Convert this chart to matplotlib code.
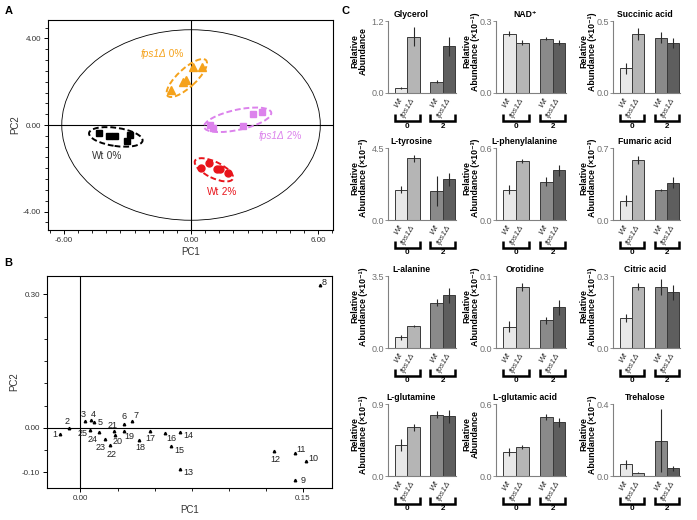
import matplotlib
matplotlib.use('Agg')
import matplotlib.pyplot as plt
import matplotlib.transforms as mtransforms
from matplotlib.patches import Ellipse
from matplotlib.ticker import MultipleLocator, FixedLocator, FormatStrFormatter

plt.rcParams['font.family'] = ['Liberation Sans', 'DejaVu Sans']
plt.rcParams['axes.unicode_minus'] = False

# ---- panel A: PCA scores ----
wt0_x = [-4.35, -3.85, -3.6, -3.0, -2.9]
wt0_y = [-0.35, -0.5, -0.5, -0.72, -0.45]
fps0_x = [-0.96, -0.39, -0.24, 0.08, 0.5]
fps0_y = [1.61, 2.0, 2.1, 2.69, 2.69]
fps2_x = [0.9, 1.05, 2.44, 2.94, 3.33]
fps2_y = [0.0, -0.15, -0.05, 0.49, 0.61]
wt2_x = [0.47, 0.85, 1.21, 1.37, 1.73]
wt2_y = [-2.0, -1.77, -2.03, -2.04, -2.23]

# ---- panel B: loadings ----
load_id = list(range(1, 26))
load_x = [-0.0139, -0.0079, 0.0034, 0.0074, 0.009, 0.0296, 0.0348, 0.1613, 0.1447, 0.1523,
          0.1447, 0.1307, 0.0674, 0.0674, 0.0611, 0.0568, 0.0472, 0.0393, 0.0296, 0.0234,
          0.0224, 0.0202, 0.0164, 0.0126, 0.0063]
load_y = [-0.0135, 0.0007, 0.0157, 0.017, 0.0135, 0.0098, 0.0148, 0.3198, -0.1177, -0.0747,
          -0.0574, -0.0522, -0.0913, -0.0099, -0.041, -0.0112, -0.0076, -0.0278, -0.006, -0.015,
          -0.0076, -0.039, -0.026, -0.0099, -0.004]

# ---- panel C: metabolite bars ----
metabolites = ['Glycerol', 'NAD⁺', 'Succinic acid', 'L-tyrosine', 'L-phenylalanine', 'Fumaric acid',
               'L-alanine', 'Orotidine', 'Citric acid', 'L-glutamine', 'L-glutamic acid', 'Trehalose']
units = ['', '(×10⁻¹)', '(×10⁻¹)', '(×10⁻³)', '(×10⁻³)', '(×10⁻³)',
         '(×10⁻¹)', '(×10⁻¹)', '(×10⁻¹)', '(×10⁻¹)', '', '(×10⁻¹)']
ymax = [1.2, 0.3, 0.5, 4.5, 0.6, 0.7, 3.5, 0.1, 0.3, 0.9, 0.6, 0.4]
means = [[0.08, 0.94, 0.19, 0.78],
         [0.247, 0.21, 0.227, 0.21],
         [0.173, 0.408, 0.385, 0.35],
         [1.9, 3.86, 1.8, 2.54],
         [0.253, 0.493, 0.32, 0.413],
         [0.187, 0.582, 0.296, 0.364],
         [0.52, 1.07, 2.2, 2.56],
         [0.0296, 0.0843, 0.0386, 0.0565],
         [0.125, 0.256, 0.253, 0.233],
         [0.39, 0.607, 0.766, 0.746],
         [0.2, 0.243, 0.488, 0.447],
         [0.064, 0.018, 0.195, 0.042]]
errs = [[0.02, 0.16, 0.02, 0.16],
        [0.01, 0.012, 0.007, 0.012],
        [0.038, 0.04, 0.04, 0.035],
        [0.2, 0.22, 0.95, 0.42],
        [0.04, 0.015, 0.035, 0.047],
        [0.053, 0.04, 0.01, 0.055],
        [0.11, 0.05, 0.16, 0.36],
        [0.0074, 0.0056, 0.005, 0.0105],
        [0.018, 0.016, 0.034, 0.031],
        [0.074, 0.04, 0.045, 0.085],
        [0.035, 0.015, 0.025, 0.037],
        [0.023, 0.004, 0.175, 0.012]]
strains = ['Wt', 'fps1Δ', 'Wt', 'fps1Δ']
salt = ['0', '2']

W, H = 697, 520
fig = plt.figure(figsize=(W / 100, H / 100), dpi=100)


def add_ax(left, top, width, height):
    return fig.add_axes([left / W, 1 - (top + height) / H, width / W, height / H])


def pca_style(ax):
    for s in ax.spines.values():
        s.set_linewidth(0.8)
    ax.tick_params(which='both', direction='out', top=False, right=False,
                   labelsize=5.8, labelcolor='#333333', pad=2)
    ax.tick_params(which='major', length=3, width=0.7)
    ax.tick_params(which='minor', length=2, width=0.6)
    ax.axhline(0, color='black', lw=0.8, zorder=1)
    ax.axvline(0, color='black', lw=0.8, zorder=1)


# panel A
axA = add_ax(48, 20, 285, 210)
axA.set_xlim(-6.75, 6.7)
axA.set_ylim(-4.85, 4.85)
pca_style(axA)
axA.xaxis.set_major_locator(FixedLocator([-6, 0, 6]))
axA.xaxis.set_minor_locator(MultipleLocator(6 / 9))
axA.yaxis.set_major_locator(FixedLocator([-4, 0, 4]))
axA.yaxis.set_minor_locator(MultipleLocator(0.5))
axA.xaxis.set_major_formatter(FormatStrFormatter('%.2f'))
axA.yaxis.set_major_formatter(FormatStrFormatter('%.2f'))
axA.set_xlabel('PC1', fontsize=7, color='#333333', labelpad=2)
axA.set_ylabel('PC2', fontsize=7, color='#333333', labelpad=2)

axA.add_patch(Ellipse((0, 0), 12.2, 8.8, fill=False, lw=0.6, ec='black'))
orange, violet, red = '#F5A21B', '#DC82EC', '#E8141B'
groups = [(wt0_x, wt0_y, 's', 'black', 5, (-3.55, -0.55), 2.55, 0.84, -8),
          (fps0_x, fps0_y, '^', orange, 6, (-0.2, 2.17), 2.45, 0.85, 42),
          (fps2_x, fps2_y, 's', violet, 5, (2.2, 0.24), 3.24, 0.93, 12),
          (wt2_x, wt2_y, 'o', red, 5, (1.08, -2.07), 1.97, 0.75, -25)]
for gx, gy, mk, col, ms, cen, ew, eh, ang in groups:
    axA.plot(gx, gy, mk, color=col, ms=ms, mec=col, zorder=3)
    axA.add_patch(Ellipse(cen, ew, eh, angle=ang, fill=False, ec=col, lw=1.4,
                          ls=(0, (3, 1.5)), zorder=3))


def group_label(ax, x, y, first, rest, color, ital):
    t = ax.text(x, y, first, style='italic' if ital else 'normal', color=color,
                fontsize=7.2, ha='left', va='bottom')
    ax.annotate(rest, xy=(1, 0), xycoords=t, color=color, fontsize=7.2, ha='left', va='bottom')


group_label(axA, -2.4, 3.05, 'fps1Δ', ' 0%', orange, True)
group_label(axA, 3.17, -0.72, 'fps1Δ', ' 2%', violet, True)
group_label(axA, -4.68, -1.65, 'Wt', ' 0%', '#333333', False)
group_label(axA, 0.74, -3.34, 'Wt', ' 2%', red, False)

# panel B
axB = add_ax(47, 276, 285, 212)
axB.set_xlim(-0.0225, 0.1695)
axB.set_ylim(-0.135, 0.341)
pca_style(axB)
axB.xaxis.set_major_locator(FixedLocator([0, 0.15]))
axB.xaxis.set_minor_locator(MultipleLocator(0.025))
axB.yaxis.set_major_locator(FixedLocator([-0.1, 0, 0.3]))
axB.yaxis.set_minor_locator(MultipleLocator(0.05))
axB.xaxis.set_major_formatter(FormatStrFormatter('%.2f'))
axB.yaxis.set_major_formatter(FormatStrFormatter('%.2f'))
axB.set_xlabel('PC1', fontsize=7, color='#333333', labelpad=2)
axB.set_ylabel('PC2', fontsize=7, color='#333333', labelpad=2)
axB.plot(load_x, load_y, '^', color='black', ms=1.8, zorder=3)
# label offsets in pixels (dx right, dy down)
offs = {1: (-5, 1), 2: (-2, -6), 3: (-2, -6), 4: (2, -6), 5: (6, 1), 6: (0, -7), 7: (4, -6),
        8: (4, -3), 9: (8, 0), 10: (7, -3), 11: (6, -4), 12: (1, 8), 13: (8, 4), 14: (8, 3),
        15: (8, 4), 16: (7, 6), 17: (0, 7), 18: (2, 7), 19: (5, 6), 20: (2, 7), 21: (-1, -6),
        22: (1, 9), 23: (-4, 8), 24: (-7, 7), 25: (-7, 4)}
for i, x, y in zip(load_id, load_x, load_y):
    dx, dy = offs[i]
    axB.annotate(str(i), (x, y), xytext=(dx * 0.72, -dy * 0.72), textcoords='offset points',
                 ha='center', va='center', fontsize=6.5, color='#222222')

fig.text(9 / W, 1 - 11 / H, 'A', fontsize=8, fontweight='bold', ha='center', va='center')
fig.text(8 / W, 1 - 263 / H, 'B', fontsize=8, fontweight='bold', ha='center', va='center')
fig.text(346 / W, 1 - 11 / H, 'C', fontsize=8, fontweight='bold', ha='center', va='center')

# panel C
col_left = [388, 496, 613]
col_w = [68, 70, 67]
title_x = [0.34, 0.41, 0.48]
label_x = [-0.29, -0.23, -0.24]
row_top = [21, 148, 276, 404]
ax_h = 72
pos = [0, 1, 2.85, 3.85]
bar_colors = ['#E8E8E8', '#B5B5B5', '#8A8A8A', '#5E5E5E']

for i, name in enumerate(metabolites):
    r, c = divmod(i, 3)
    ax = add_ax(col_left[c], row_top[r], col_w[c], ax_h)
    ax.bar(pos, means[i], width=1, color=bar_colors, edgecolor='#3A3A3A', linewidth=0.7,
           yerr=errs[i], error_kw=dict(ecolor='#2A2A2A', elinewidth=0.8, capsize=0))
    ax.set_xlim(-1.05, 4.4)
    ax.set_ylim(0, ymax[i])
    for s in ['top', 'right']:
        ax.spines[s].set_visible(False)
    for s in ['left', 'bottom']:
        ax.spines[s].set_color('#808080')
        ax.spines[s].set_linewidth(0.8)
    ax.set_yticks([0, ymax[i]])
    ax.yaxis.set_major_formatter(FormatStrFormatter('%.1f'))
    ax.tick_params(axis='y', length=2, width=0.6, color='#808080', labelsize=6.5,
                   labelcolor='#707070', pad=1)
    ax.set_xticks(pos)
    ax.set_xticklabels(strains, rotation=60, ha='right', va='center', rotation_mode='anchor',
                       style='italic', fontsize=6, color='#333333')
    ax.tick_params(axis='x', length=0, pad=4)
    ax.set_title(name, fontsize=6.2, fontweight='bold', x=title_x[c], pad=3)
    lab = 'Relative\nAbundance' + (' ' + units[i] if units[i] else '')
    ax.set_ylabel(lab, fontsize=6.3, fontweight='bold', linespacing=0.95)
    ax.yaxis.set_label_coords(label_x[c], 0.58)

    trans = mtransforms.blended_transform_factory(ax.transData, ax.transAxes)
    yb = -28 / ax_h
    ye = -21 / ax_h
    for g in range(2):
        x0 = pos[2 * g] - 0.5
        x1 = pos[2 * g + 1] + 0.5
        ax.plot([x0, x0, x1, x1], [ye, yb, yb, ye], transform=trans, clip_on=False,
                color='black', lw=1.8, solid_joinstyle='miter', solid_capstyle='butt')
        ax.text((x0 + x1) / 2, yb - 1.5 / ax_h, salt[g], transform=trans, ha='center',
                va='top', fontsize=5.8, fontweight='bold')

fig.savefig('out.png', dpi=100)
